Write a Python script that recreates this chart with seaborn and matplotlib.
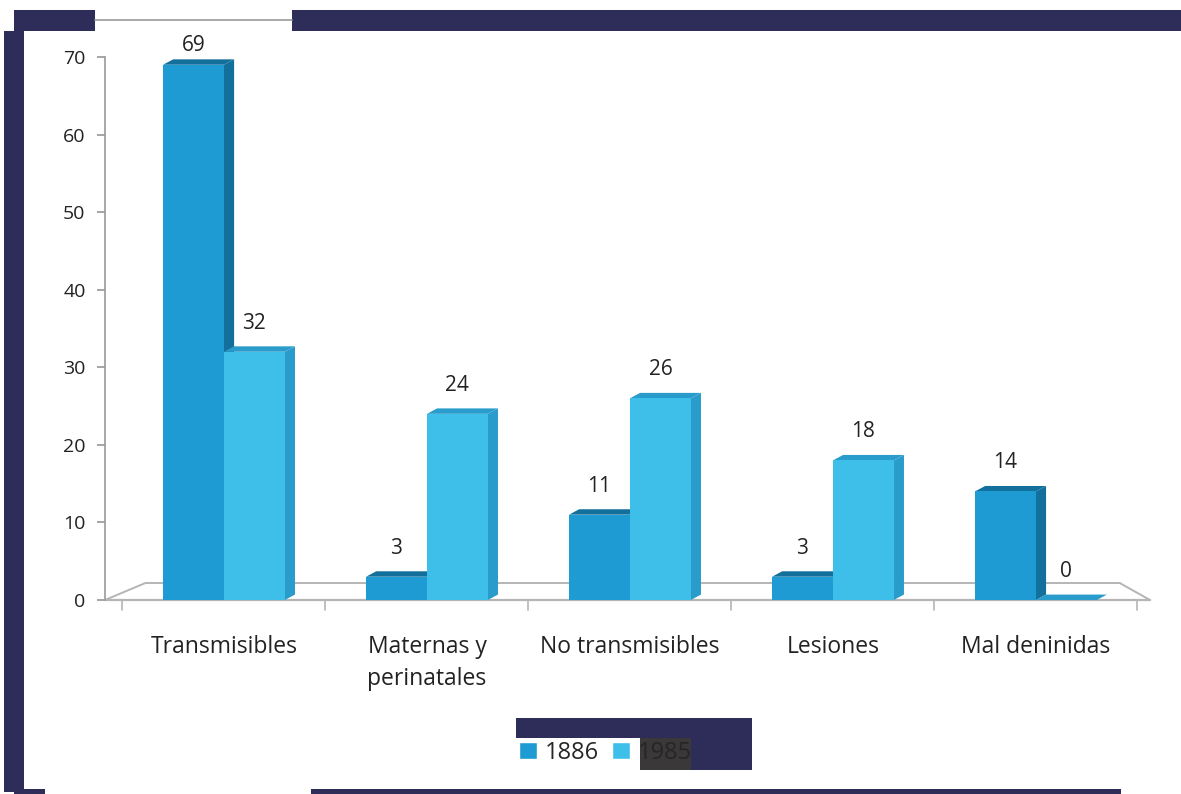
import matplotlib
matplotlib.use("Agg")
import matplotlib.pyplot as plt
import seaborn as sns
import pandas as pd
from matplotlib.patches import Rectangle, Polygon

categories = ["Transmisibles", "Maternas y\nperinatales", "No transmisibles", "Lesiones", "Mal deninidas"]
series_names = ["1886", "1985"]
values_1886 = [69, 3, 11, 3, 14]
values_1985 = [32, 24, 26, 18, 0]
yticks = [0, 10, 20, 30, 40, 50, 60, 70]

front_colors = ["#1e9bd2", "#3dbfe9"]
side_colors = ["#136f9c", "#2a9ccb"]

df = pd.DataFrame({
    "cat": categories * 2,
    "year": [series_names[0]] * len(categories) + [series_names[1]] * len(categories),
    "val": values_1886 + values_1985,
})

sns.set_theme(style="white")
plt.rcParams["font.family"] = ["Open Sans", "DejaVu Sans"]

W, H = 1181, 794
fig = plt.figure(figsize=(W / 100, H / 100), dpi=100)
fig.patch.set_facecolor("white")

def frect(x0, y0, x1, y1, color, z=0):
    fig.add_artist(Rectangle((x0 / W, 1 - y1 / H), (x1 - x0) / W, (y1 - y0) / H,
                             transform=fig.transFigure, facecolor=color,
                             edgecolor="none", zorder=z))

navy = "#2e2c58"
# scanned frame pieces
frect(14, 10, 95, 31, navy)
frect(292, 10, 1181, 31, navy)
fig.add_artist(plt.Line2D([95 / W, 292 / W], [1 - 20 / H, 1 - 20 / H],
                          transform=fig.transFigure, color="#9a9a9a", lw=1.2))
frect(4, 31, 24, 792, navy)
frect(14, 789, 45, 794, navy)
frect(311, 789, 1121, 794, navy)
# legend box
frect(516, 718, 752, 770, navy)
frect(516, 738, 640, 770, "white")
frect(640, 738, 691, 770, "#3a3838")

ax = fig.add_axes([105 / W, 1 - 600 / H, 1045 / W, 543 / H])
ax.set_facecolor("none")

sns.barplot(data=df, x="cat", y="val", hue="year", order=categories,
            hue_order=series_names, palette=front_colors, width=0.6,
            saturation=1, ax=ax, zorder=3)

xmin, xmax = -0.586, 4.562
ax.set_xlim(xmin, xmax)
ax.set_ylim(0, 70)

# 3D-like depth faces derived from the bars
dx, dy = 0.05, 0.7
for i, container in enumerate(ax.containers):
    vals = values_1886 if i == 0 else values_1985
    for bar, v in zip(container, vals):
        x0 = bar.get_x()
        x1 = x0 + bar.get_width()
        h = bar.get_height()
        side = Polygon([(x1, 0), (x1 + dx, dy), (x1 + dx, h + dy), (x1, h)],
                       closed=True, facecolor=side_colors[i], edgecolor="none", zorder=2)
        top = Polygon([(x0, h), (x1, h), (x1 + dx, h + dy), (x0 + dx, h + dy)],
                      closed=True, facecolor=side_colors[i], edgecolor="none", zorder=2)
        ax.add_patch(side)
        ax.add_patch(top)
        bar.set_edgecolor("none")
        off = 6 if h > 60 else 13
        ax.annotate(str(v), (x0 + bar.get_width() / 2, h), xytext=(0, off),
                    textcoords="offset points", ha="center", va="bottom",
                    fontsize=15, color="#222222", annotation_clip=False)

# floor
fx, fy = 0.2, 2.2
floor_col = "#b5b5b5"
ax.plot([xmin, xmax], [0, 0], color=floor_col, lw=1.6, zorder=1, clip_on=False)
ax.plot([xmin + fx, xmax - 0.15], [fy, fy], color=floor_col, lw=1.4, zorder=1, clip_on=False)
ax.plot([xmin, xmin + fx], [0, fy], color=floor_col, lw=1.4, zorder=1, clip_on=False)
ax.plot([xmax - 0.15, xmax], [fy, 0], color=floor_col, lw=1.4, zorder=1, clip_on=False)
for b in [-0.5, 0.5, 1.5, 2.5, 3.5, 4.5]:
    ax.plot([b, b], [0, -1.3], color=floor_col, lw=1.2, clip_on=False)

for s in ["top", "right", "bottom"]:
    ax.spines[s].set_visible(False)
ax.spines["left"].set_color("#9a9a9a")
ax.spines["left"].set_linewidth(1.2)

ax.set_yticks(yticks)
ax.tick_params(axis="y", left=True, length=6, color="#9a9a9a", labelsize=14,
               pad=8, labelcolor="#222222")
ax.tick_params(axis="x", bottom=False, labelsize=16.5, pad=19, labelcolor="#222222")
for t in ax.get_xticklabels():
    t.set_linespacing(1.45)
ax.set_xlabel("")
ax.set_ylabel("")

sns.move_legend(ax, loc="center left", bbox_to_anchor=(519 / W, 1 - 753 / H),
                bbox_transform=fig.transFigure, ncol=2, frameon=False, title=None,
                fontsize=17, handlelength=0.75, handleheight=0.75, columnspacing=0.55,
                handletextpad=0.35, borderpad=0.0, borderaxespad=0.0)

fig.savefig("out.png", dpi=100, facecolor="white")
